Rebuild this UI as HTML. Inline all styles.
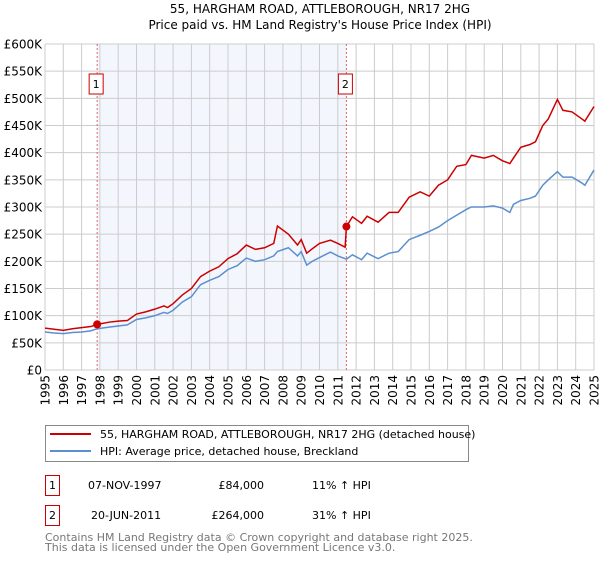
<!DOCTYPE html>
<html><head><meta charset="utf-8"><style>
body{margin:0;background:#fff;font-family:"DejaVu Sans","Liberation Sans",sans-serif;}
svg text{font-family:"DejaVu Sans","Liberation Sans",sans-serif;}
</style></head><body>
<svg width="600" height="560" xmlns="http://www.w3.org/2000/svg">
<text x="320" y="13" font-size="12" text-anchor="middle">55, HARGHAM ROAD, ATTLEBOROUGH, NR17 2HG</text>
<text x="320" y="29" font-size="12" text-anchor="middle">Price paid vs. HM Land Registry's House Price Index (HPI)</text>
<g id="plot"></g>
<g>
<rect x="45.5" y="425.5" width="423" height="36" fill="#fff" stroke="#888"/>
<line x1="50" y1="434" x2="91" y2="434" stroke="#cc0000" stroke-width="2"/>
<text x="100" y="438" font-size="11">55, HARGHAM ROAD, ATTLEBOROUGH, NR17 2HG (detached house)</text>
<line x1="50" y1="451" x2="91" y2="451" stroke="#5b8fd0" stroke-width="2"/>
<text x="100" y="455" font-size="11">HPI: Average price, detached house, Breckland</text>
</g>
<g font-size="11">
<rect x="45.5" y="475.5" width="14" height="20" fill="#fff" stroke="#cc0000"/>
<text x="52.5" y="489" text-anchor="middle">1</text>
<text x="88" y="489">07-NOV-1997</text>
<text x="264" y="489" text-anchor="end">£84,000</text>
<text x="312" y="489">11% ↑ HPI</text>
<rect x="45.5" y="505.5" width="14" height="20" fill="#fff" stroke="#cc0000"/>
<text x="52.5" y="519" text-anchor="middle">2</text>
<text x="91" y="519">20-JUN-2011</text>
<text x="264" y="519" text-anchor="end">£264,000</text>
<text x="312" y="519">31% ↑ HPI</text>
</g>
<text x="45" y="541" font-size="11" fill="#777">Contains HM Land Registry data © Crown copyright and database right 2025.</text>
<text x="45" y="551" font-size="11" fill="#777">This data is licensed under the Open Government Licence v3.0.</text>
</svg>
<script>
const yTicks=[0,50,100,150,200,250,300,350,400,450,500,550,600];
const yTickLabels=["£0","£50K","£100K","£150K","£200K","£250K","£300K","£350K","£400K","£450K","£500K","£550K","£600K"];
const years=[1995,1996,1997,1998,1999,2000,2001,2002,2003,2004,2005,2006,2007,2008,2009,2010,2011,2012,2013,2014,2015,2016,2017,2018,2019,2020,2021,2022,2023,2024,2025];
const hpiT=[1995,1995.5,1996,1996.5,1997,1997.5,1997.85,1998.5,1999,1999.5,2000,2000.5,2001,2001.5,2001.7,2002,2002.5,2003,2003.5,2004,2004.5,2005,2005.5,2006,2006.5,2007,2007.5,2007.7,2008.3,2008.8,2009.0,2009.3,2009.6,2010,2010.6,2011,2011.47,2011.8,2012.3,2012.6,2013.2,2013.8,2014.3,2014.9,2015.5,2016,2016.5,2017,2017.5,2018,2018.3,2019,2019.5,2020,2020.4,2020.6,2021,2021.5,2021.8,2022.2,2022.5,2023,2023.3,2023.8,2024.3,2024.5,2025];
const hpiV=[70,68,67,69,70,72,76,79,81,83,93,96,100,106,104,110,125,135,157,165,172,185,192,206,200,203,210,218,225,210,218,193,200,207,217,210,204,212,203,215,205,215,218,240,248,255,263,275,285,295,300,300,302,298,290,305,312,316,320,340,350,365,355,355,345,340,368];
const redT=[1995,1995.5,1996,1996.5,1997,1997.5,1997.85,1998.5,1999,1999.5,2000,2000.5,2001,2001.5,2001.7,2002,2002.5,2003,2003.5,2004,2004.5,2005,2005.5,2006,2006.5,2007,2007.5,2007.7,2008.3,2008.8,2009.0,2009.3,2009.6,2010,2010.6,2011,2011.4,2011.47,2011.8,2012.3,2012.6,2013.2,2013.8,2014.3,2014.9,2015.5,2016,2016.5,2017,2017.5,2018,2018.3,2019,2019.5,2020,2020.4,2020.6,2021,2021.5,2021.8,2022.2,2022.5,2023,2023.3,2023.8,2024.3,2024.5,2025];
const redV=[77,75,73,76,78,80,84,88,90,91,103,107,112,118,115,122,138,150,172,182,190,205,214,230,222,225,233,265,250,230,240,215,223,233,239,233,226,264,282,270,283,272,290,290,318,328,320,340,350,375,378,395,390,395,385,380,390,410,415,420,450,462,498,478,475,463,458,485];
const sales=[{t:1997.85,v:84,n:"1"},{t:2011.47,v:264,n:"2"}];
const X0=45,X1=594,Y0=370,Y1=44;
const xs=t=>X0+(t-1995)/30*(X1-X0);
const ys=v=>Y0-v/600*(Y0-Y1);
const NS="http://www.w3.org/2000/svg";
const g=document.getElementById('plot');
function mk(tag,at,parent){const e=document.createElementNS(NS,tag);for(const k in at)e.setAttribute(k,at[k]);(parent||g).appendChild(e);return e;}
let e=mk('rect',{x:xs(sales[0].t),y:Y1,width:xs(sales[1].t)-xs(sales[0].t),height:Y0-Y1,fill:'#eef3fc',opacity:0.7});


years.forEach(y=>{const l=mk('line',{x1:xs(y),x2:xs(y),y1:Y1,y2:Y0,stroke:'#cccccc'});


const t=mk('text',{x:0,y:0,'font-size':12,'text-anchor':'end',transform:`translate(${xs(y)+4.5},${Y0+5}) rotate(-90)`});
t.textContent=y;

});
yTicks.forEach((v,i)=>{const l=mk('line',{x1:X0,x2:X1,y1:ys(v),y2:ys(v),stroke:'#cccccc'});


const t=mk('text',{x:X0-3,y:ys(v)+4.5,'font-size':12,'text-anchor':'end'});
t.textContent=yTickLabels[i];

});
sales.forEach(s=>{const l=mk('line',{x1:xs(s.t),x2:xs(s.t),y1:Y1,y2:Y0,stroke:'#e06666','stroke-dasharray':'2,2'});


const r=mk('rect',{x:xs(s.t)-8,y:74,width:14,height:20,fill:'#fff',stroke:'#cc0000'});


const t=mk('text',{x:xs(s.t)-1,y:88,'font-size':11,'text-anchor':'middle'});t.textContent=s.n;

});
const p1=mk('polyline',{points:hpiT.map((t,i)=>xs(t)+','+ys(hpiV[i])).join(' '),fill:'none',stroke:'#5b8fd0','stroke-width':1.5});


const p2=mk('polyline',{points:redT.map((t,i)=>xs(t)+','+ys(redV[i])).join(' '),fill:'none',stroke:'#cc0000','stroke-width':1.5});


sales.forEach(s=>{const c=mk('circle',{cx:xs(s.t),cy:ys(s.v),r:4,fill:'#cc0000'});

});
</script>
</body></html>
